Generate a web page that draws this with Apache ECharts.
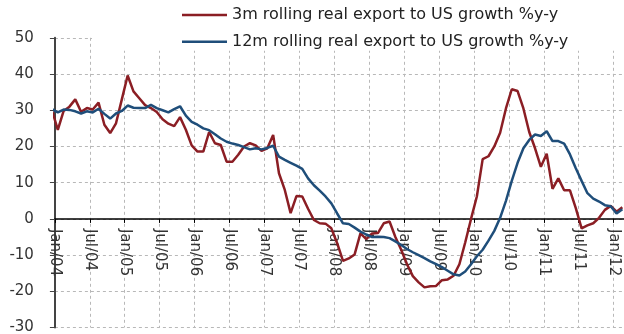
<!DOCTYPE html>
<html><head><meta charset="utf-8">
<script src="https://cdn.jsdelivr.net/npm/echarts@6/dist/echarts.min.js"></script>
<style>html,body{margin:0;padding:0;background:#fff}#c{width:624px;height:334px}</style>
</head><body><div id="c"></div>
<script>
// Series names (legend)
const name3m = '3m rolling real export to US growth %y-y';
const name12m = '12m rolling real export to US growth %y-y';

// x-axis tick labels, one every 6 months starting Jan/04
const tickLabels = ['Jan/04','Jul/04','Jan/05','Jul/05','Jan/06','Jul/06','Jan/07','Jul/07','Jan/08',
  'Jul/08','Jan/09','Jul/09','Jan/10','Jul/10','Jan/11','Jul/11','Jan/12'];

// Monthly values, Dec/03 .. Feb/12
const red3m = [
  30,
  24.6, 29.8, 31, 33, 29.6, 30.6, 30.2, 32.1, 26, 23.7, 26.4, 33,
  39.6, 35.2, 33.3, 31.4, 30.6, 29.5, 27.5, 26.3, 25.6, 28.1, 24.6, 20.3,
  18.6, 18.6, 24, 20.9, 20.4, 15.8, 15.8, 17.7, 20, 20.9, 20.3, 18.8,
  19.5, 23.2, 12.6, 8, 1.6, 6.3, 6.2, 2.8, -0.3, -1.2, -1.3, -2.6,
  -6.7, -11.6, -10.9, -9.8, -4, -5.6, -4, -3.9, -1.2, -0.7, -5, -8.5,
  -12.5, -15.8, -17.5, -18.9, -18.6, -18.5, -16.9, -16.7, -15.7, -12.5, -6.5, 0,
  6.2, 16.5, 17.3, 20, 23.8, 30.5, 35.8, 35.3, 30.5, 24, 19.5, 14.4,
  18, 8.3, 11.2, 7.9, 7.9, 3, -2.6, -1.8, -1.2, 0.3, 2.5, 3.6,
  2, 3.2
];
const blue12m = [
  30.3,
  29.4, 30.2, 30.1, 29.7, 29.1, 29.7, 29.4, 30.4, 29, 27.7, 29.1, 29.8,
  31.3, 30.7, 30.6, 30.6, 31.5, 30.6, 30, 29.4, 30.3, 31.1, 28.5, 26.8,
  26, 25, 24.5, 23.4, 22.2, 21.3, 20.8, 20.4, 19.8, 19.2, 19.5, 19.2,
  19.6, 20.2, 17.2, 16.3, 15.5, 14.7, 13.8, 11.2, 9.3, 7.8, 6.2, 4.3,
  1.5, -1.2, -1.4, -2.4, -3.5, -4.3, -5, -4.9, -5, -5.3, -6.2, -7.2,
  -8.3, -9.2, -10, -10.8, -11.7, -12.5, -13.3, -14.3, -15.3, -15.6, -14.5, -12.5,
  -10.3, -8.5, -6, -3.3, 0.3, 5, 10.5, 15.5, 19.5, 21.8, 23.3, 22.9,
  24.2, 21.5, 21.5, 20.8, 17.8, 14, 10.5, 7.1, 5.6, 4.8, 3.8, 3.5,
  1.5, 2.7
];

// months counted from start of Jan/04; each value sits mid-month; first value is Dec/03
function toPoints(vals) { return vals.map((v, i) => [i - 1 + 0.5, v]); }

const font = 'DejaVu Sans';
const gridLine = { show: true, lineStyle: { color: '#b8b8b8', type: [3, 3], width: 1 } };
const yMin = -30, yMax = 50;
const gridTop = 37.8, gridHeight = 289.8;
// move the category axis up to the zero line
const zeroOffset = -gridHeight * (0 - yMin) / (yMax - yMin);

const chart = echarts.init(document.getElementById('c'), null, { renderer: 'canvas' });
chart.setOption({
  animation: false,
  backgroundColor: '#fff',
  grid: { left: 54.9, top: gridTop, width: 582, height: gridHeight, containLabel: false, outerBoundsMode: 'none' },
  legend: {
    orient: 'vertical', left: 92, top: 0,
    padding: [7, 80, 1, 90],
    backgroundColor: '#fff',
    icon: 'rect',
    itemWidth: 45, itemHeight: 2.5, itemGap: 10.7,
    textStyle: { fontFamily: font, fontSize: 16, color: '#222', lineHeight: 16 },
    data: [name3m, name12m]
  },
  xAxis: {
    type: 'value', min: 0, max: 100, interval: 6,
    position: 'bottom', offset: zeroOffset,
    axisLine: { show: true, onZero: false, lineStyle: { color: '#000', width: 1.5 } },
    axisTick: { show: true, length: 4, lineStyle: { color: '#000' } },
    axisLabel: {
      rotate: -90, margin: 10, fontFamily: font, fontSize: 15, color: '#333',
      showMaxLabel: false,
      formatter: v => (v % 6 === 0 && tickLabels[v / 6]) ? tickLabels[v / 6] : ''
    },
    splitLine: gridLine
  },
  yAxis: {
    type: 'value', min: yMin, max: yMax, interval: 10,
    axisLine: { show: true, onZero: false, lineStyle: { color: '#444', width: 2 } },
    axisTick: { show: true, length: 5, lineStyle: { color: '#444' } },
    axisLabel: { margin: 21, fontFamily: font, fontSize: 15, color: '#333' },
    splitLine: gridLine
  },
  series: [
    { name: name3m, type: 'line', symbol: 'none', clip: true,
      lineStyle: { color: '#8B1E24', width: 2.5 }, itemStyle: { color: '#8B1E24' },
      data: toPoints(red3m) },
    { name: name12m, type: 'line', symbol: 'none', clip: true,
      lineStyle: { color: '#1F4E7A', width: 2.5 }, itemStyle: { color: '#1F4E7A' },
      data: toPoints(blue12m) }
  ]
});
</script></body></html>
